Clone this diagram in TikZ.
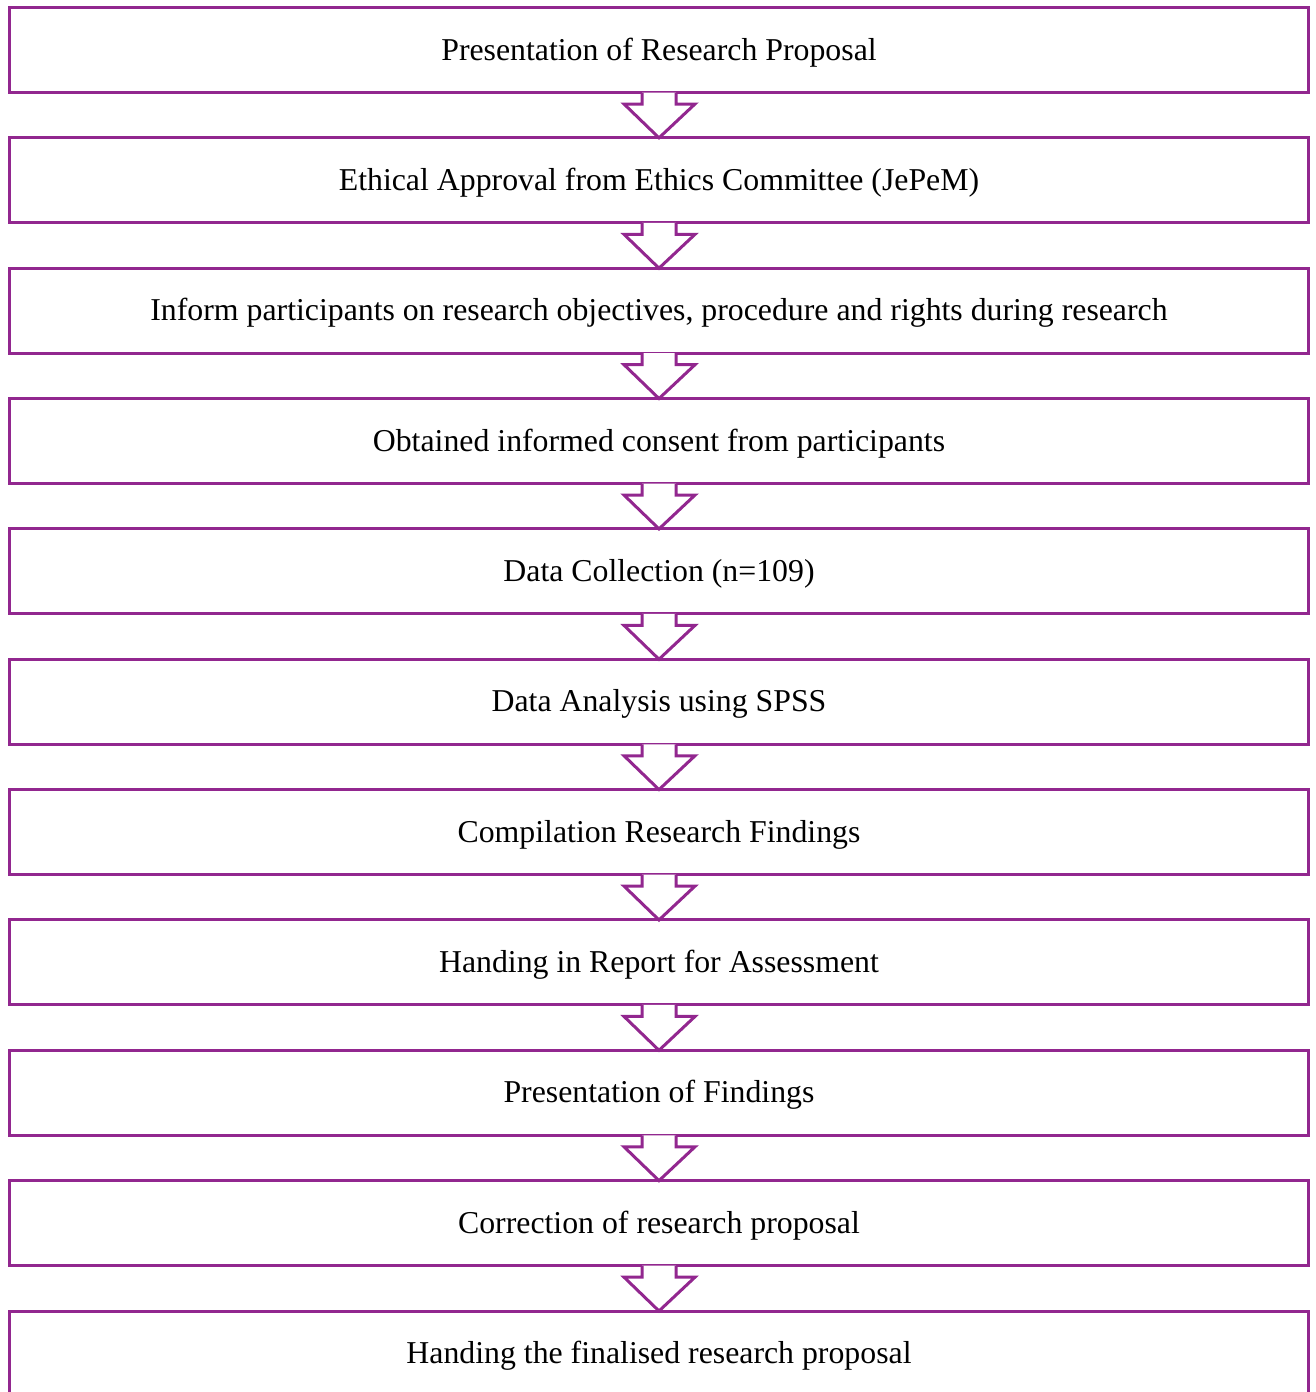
\documentclass[tikz,border=0pt]{standalone}
\usepackage{fontspec}
\setmainfont{Liberation Serif}
\definecolor{boxpurple}{HTML}{92278F}
\begin{document}
\begin{tikzpicture}[x=1pt,y=-1pt,
  stepbox/.style={draw=boxpurple, line width=3pt, rectangle, minimum width=1299pt, minimum height=85pt, inner sep=0pt, outer sep=0pt, text height=22pt, text depth=2pt, font=\fontsize{31.8pt}{36pt}\selectfont},
  blockarrow/.style={draw=boxpurple, line width=3pt, line join=miter}
]
\useasboundingbox (0,0) rectangle (1315,1392);
\foreach \i/\t in {1/{Presentation of Research Proposal},
  2/{Ethical Approval from Ethics Committee (JePeM)},
  3/{Inform participants on research objectives, procedure and rights during research},
  4/{Obtained informed consent from participants},
  5/{Data Collection (n=109)},
  6/{Data Analysis using SPSS},
  7/{Compilation Research Findings},
  8/{Handing in Report for Assessment},
  9/{Presentation of Findings},
  10/{Correction of research proposal},
  11/{Handing the finalised research proposal}}{
  \node[stepbox] (b\i) at (659, {50+130.35*(\i-1)}) {\t};
}
\foreach \i [evaluate=\i as \j using int(\i+1)] in {1,...,10}{
  \fill[white] ([xshift=-17pt]b\i.south) -- ++(0,11.5) -- ++(-18,0) -- (b\j.north) -- ([xshift=36pt,yshift=-11.5pt]b\i.south) -- ++(-19,0) -- ([xshift=17pt]b\i.south) -- cycle;
  \draw[blockarrow] ([xshift=-17pt]b\i.south) -- ++(0,11.5) -- ++(-18,0) -- (b\j.north) -- ([xshift=36pt,yshift=-11.5pt]b\i.south) -- ++(-19,0) -- ([xshift=17pt]b\i.south);
}
\end{tikzpicture}
\end{document}
